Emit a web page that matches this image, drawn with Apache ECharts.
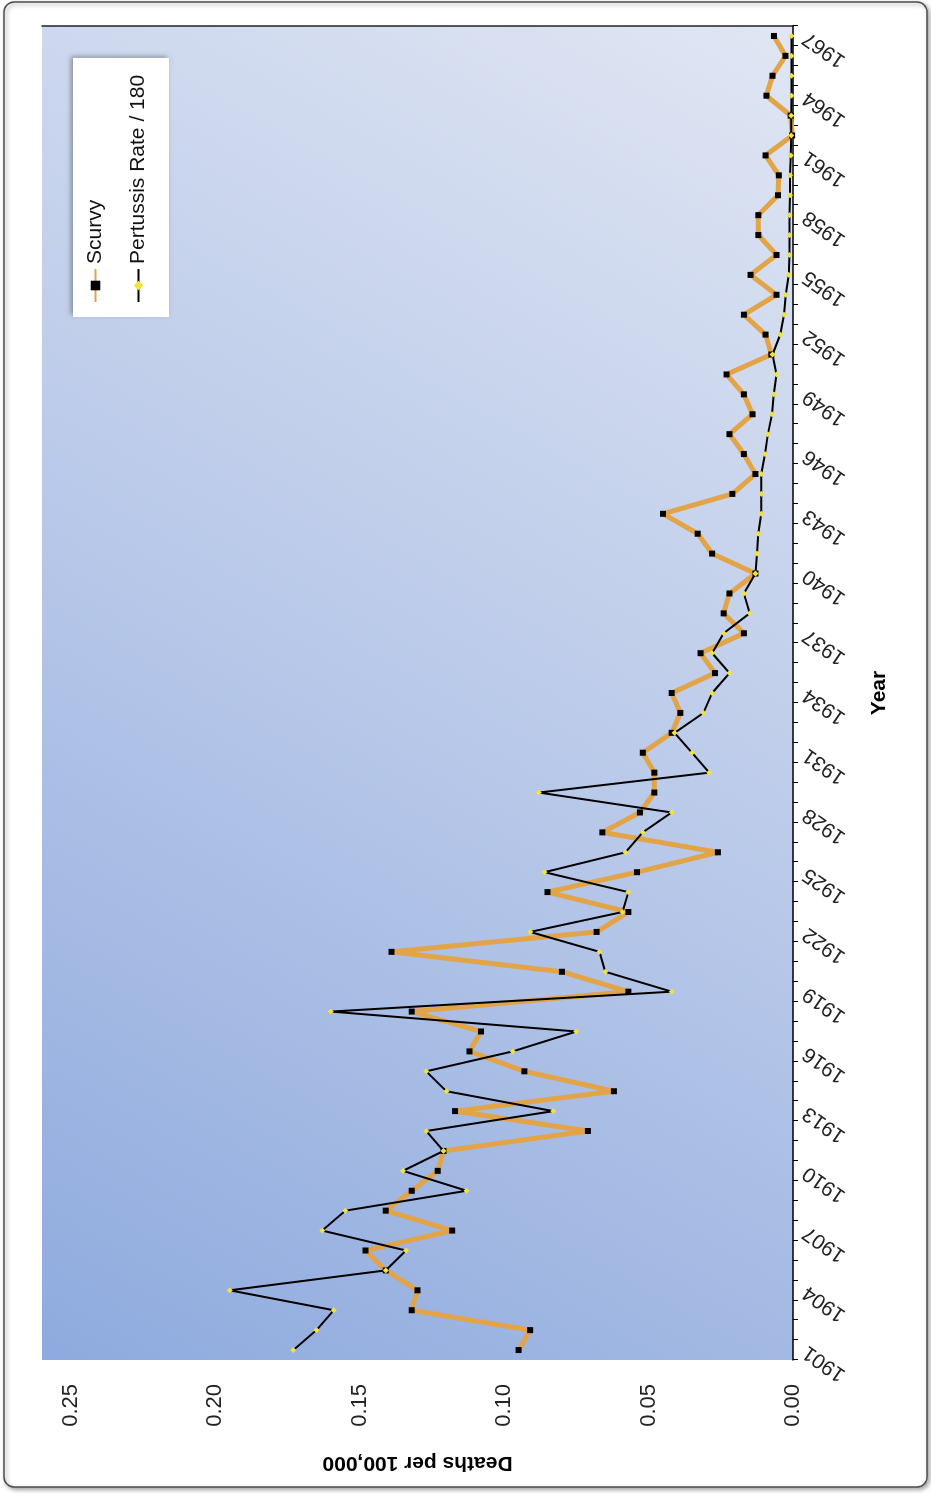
<!DOCTYPE html>
<html>
<head>
<meta charset="utf-8">
<script src="https://cdn.jsdelivr.net/npm/echarts@6/dist/echarts.min.js"></script>
<style>
html, body { margin: 0; padding: 0; width: 931px; height: 1500px; overflow: hidden; background: #ffffff; }
#chart { position: absolute; left: 0; top: 0; width: 1500px; height: 931px;
  transform-origin: 0 0; transform: translateY(1500px) rotate(-90deg); }
</style>
</head>
<body>
<div id="chart"></div>
<script>
const years = ['1901','1902','1903','1904','1905','1906','1907','1908','1909','1910',
  '1911','1912','1913','1914','1915','1916','1917','1918','1919','1920',
  '1921','1922','1923','1924','1925','1926','1927','1928','1929','1930',
  '1931','1932','1933','1934','1935','1936','1937','1938','1939','1940',
  '1941','1942','1943','1944','1945','1946','1947','1948','1949','1950',
  '1951','1952','1953','1954','1955','1956','1957','1958','1959','1960',
  '1961','1962','1963','1964','1965','1966','1967'];

const scurvy = [0.095, 0.091, 0.132, 0.130, 0.141, 0.148, 0.118, 0.141, 0.132, 0.123,
  0.121, 0.071, 0.117, 0.062, 0.093, 0.112, 0.108, 0.132, 0.057, 0.080,
  0.139, 0.068, 0.057, 0.085, 0.054, 0.026, 0.066, 0.053, 0.048, 0.048,
  0.052, 0.042, 0.039, 0.042, 0.027, 0.032, 0.017, 0.024, 0.022, 0.013,
  0.028, 0.033, 0.045, 0.021, 0.013, 0.017, 0.022, 0.014, 0.017, 0.023,
  0.0075, 0.0095, 0.017, 0.0057, 0.0147, 0.0057, 0.012, 0.012, 0.0052, 0.0049,
  0.0095, 0.0003, 0.0008, 0.0092, 0.0071, 0.0026, 0.0066];

const pertussis = [0.173, 0.165, 0.159, 0.195, 0.141, 0.134, 0.163, 0.155, 0.113, 0.135,
  0.121, 0.127, 0.083, 0.120, 0.127, 0.097, 0.075, 0.160, 0.042, 0.065,
  0.067, 0.091, 0.059, 0.057, 0.086, 0.058, 0.052, 0.042, 0.088, 0.029,
  0.035, 0.041, 0.031, 0.028, 0.022, 0.028, 0.024, 0.015, 0.017, 0.013,
  0.0125, 0.012, 0.011, 0.011, 0.011, 0.0097, 0.0087, 0.0073, 0.0067, 0.0057,
  0.0071, 0.0044, 0.0031, 0.0025, 0.0015, 0.0012, 0.0012, 0.0012, 0.001, 0.001,
  0.0008, 0.0006, 0.0006, 0.0005, 0.0005, 0.0005, 0.0005];

const valueTickLabels = ['0.00', '0.05', '0.10', '0.15', '0.20', '0.25'];
const seriesNames = ['Scurvy', 'Pertussis Rate / 180'];
const axisTitles = { x: 'Year', y: 'Deaths per 100,000' };

const FONT = '"Liberation Sans", Arial, sans-serif';
const chart = echarts.init(document.getElementById('chart'), null, { renderer: 'canvas' });

chart.setOption({
  animation: false,
  backgroundColor: '#ffffff',
  textStyle: { fontFamily: FONT },
  graphic: [{
    type: 'rect', silent: true, z: -10,
    shape: { x: 13, y: 4, width: 1485, height: 923, r: 10 },
    style: { fill: '#ffffff', stroke: '#4d4d4d', lineWidth: 1.5,
      shadowBlur: 4, shadowColor: 'rgba(0,0,0,0.35)', shadowOffsetX: -2, shadowOffsetY: 2 }
  }],
  grid: {
    left: 140, right: 26, top: 42, bottom: 138,
    show: true, borderWidth: 0,
    backgroundColor: new echarts.graphic.LinearGradient(0, 0, 1, 1, [
      { offset: 0, color: '#8eaade' },
      { offset: 0.5, color: '#b9c9e9' },
      { offset: 1, color: '#e0e6f3' }
    ])
  },
  legend: {
    orient: 'vertical',
    left: 1183, top: 73,
    data: seriesNames,
    backgroundColor: '#ffffff',
    padding: [12, 17, 20, 14],
    itemGap: 22,
    itemWidth: 33, itemHeight: 12,
    shadowBlur: 5, shadowColor: 'rgba(0,0,0,0.35)', shadowOffsetX: 2, shadowOffsetY: -2,
    textStyle: { fontFamily: FONT, fontSize: 21, color: '#111' }
  },
  xAxis: {
    type: 'category',
    data: years,
    boundaryGap: true,
    name: axisTitles.x,
    nameLocation: 'middle',
    nameGap: 76,
    nameTextStyle: { fontFamily: FONT, fontWeight: 'bold', fontSize: 21, color: '#000' },
    axisLine: { show: true, lineStyle: { color: '#000', width: 1.5 } },
    axisTick: { show: true, interval: 0, length: 5, lineStyle: { color: '#000' } },
    axisLabel: { interval: 2, rotate: 55, fontSize: 21, margin: 12, color: '#222', fontFamily: FONT },
    splitLine: { show: false }
  },
  yAxis: [{
    type: 'value',
    min: 0, max: 0.26, interval: 0.05,
    name: axisTitles.y,
    nameLocation: 'middle',
    nameRotate: 90,
    nameGap: 92,
    nameTextStyle: { fontFamily: FONT, fontWeight: 'bold', fontSize: 21, color: '#000' },
    axisLine: { show: false },
    axisTick: { show: false },
    splitLine: { show: false },
    axisLabel: {
      fontSize: 22, margin: 24, color: '#222', fontFamily: FONT,
      formatter: function (v) {
        const i = Math.round(v / 0.05);
        return (Math.abs(v - i * 0.05) < 1e-6 && i < valueTickLabels.length) ? valueTickLabels[i] : '';
      }
    }
  }, {
    type: 'value',
    min: 0, max: 0.26, interval: 0.05,
    position: 'right',
    axisLine: { show: true, lineStyle: { color: '#222', width: 1.5 } },
    axisTick: { show: false },
    axisLabel: { show: false },
    splitLine: { show: false }
  }],
  series: [{
    name: seriesNames[0],
    type: 'line',
    data: scurvy,
    symbol: 'rect',
    symbolSize: 6,
    showAllSymbol: true,
    lineStyle: { color: '#E2A447', width: 5 },
    itemStyle: { color: '#000000' },
    z: 2
  }, {
    name: seriesNames[1],
    type: 'line',
    data: pertussis,
    symbol: 'diamond',
    symbolSize: 6,
    showAllSymbol: true,
    lineStyle: { color: '#000000', width: 2 },
    itemStyle: { color: '#F2E23A' },
    z: 3
  }]
});
</script>
</body>
</html>
